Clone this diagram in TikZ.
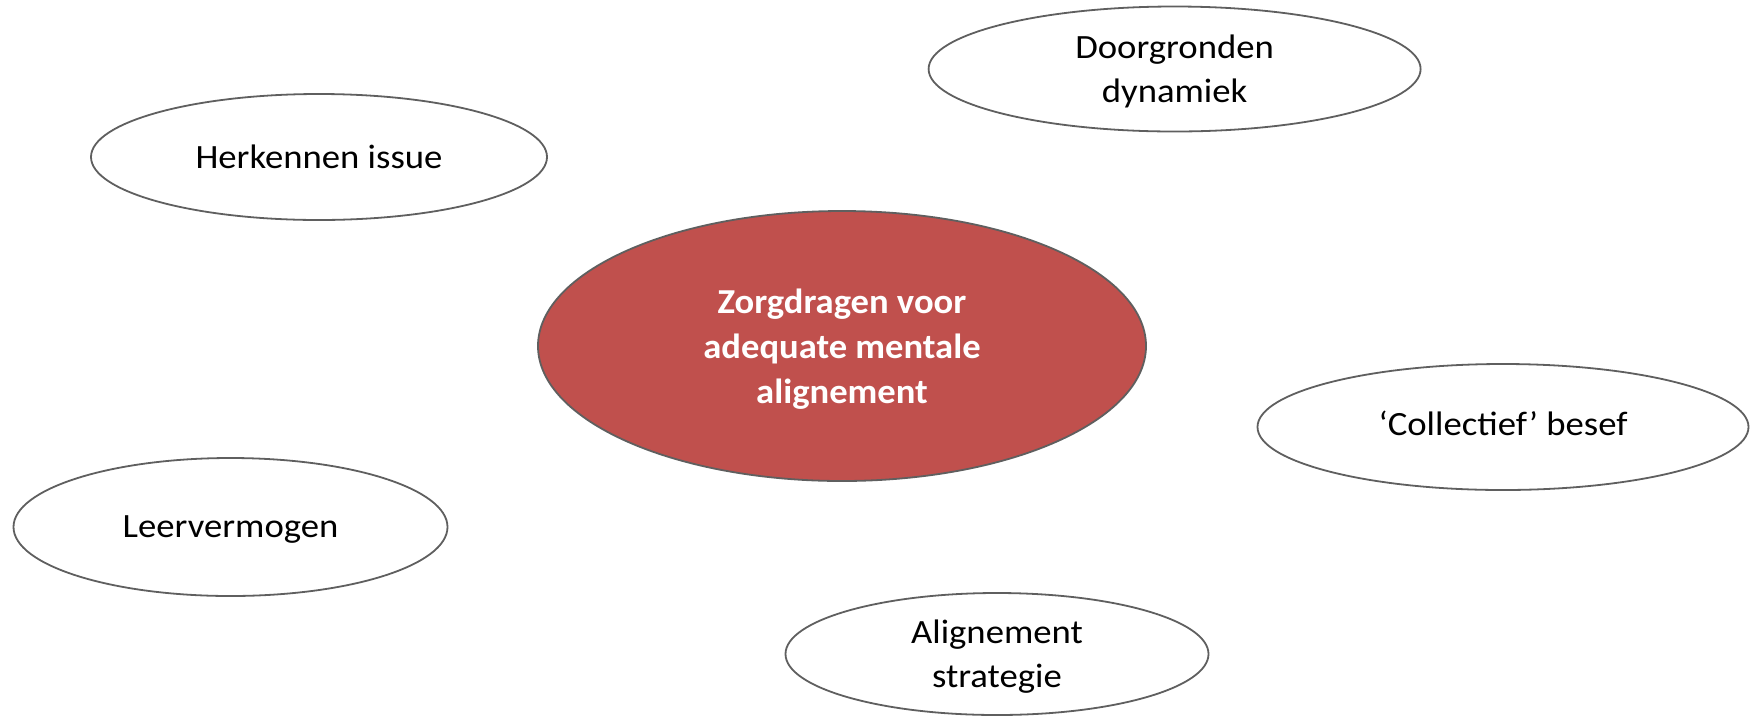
\documentclass[tikz,border=0pt]{standalone}
\usepackage{fontspec}
\setmainfont{Carlito}[FakeStretch=1.08]
\newfontfamily\centfont{Carlito}[FakeStretch=1.045]
\usetikzlibrary{shapes.geometric}
\definecolor{strokegray}{HTML}{5F5F5F}
\definecolor{centred}{HTML}{C0504D}
\begin{document}
\begin{tikzpicture}[x=1pt,y=-1pt,
  bub/.style={ellipse, draw=strokegray, line width=1.8pt, fill=white, inner sep=0pt,
    align=center, text=black, text depth=0pt, font=\fontsize{34}{44}\selectfont},
  cbub/.style={bub, fill=centred, text=white, font=\centfont\bfseries\fontsize{35}{45}\selectfont}]
\useasboundingbox (0,0) rectangle (1750,716);
\node[bub, minimum width=456pt, minimum height=126pt, text depth=-4.5pt] (herk) at (319,157) {Herkennen issue};
\node[bub, minimum width=492pt, minimum height=125pt] (door) at (1174.6,69) {Doorgronden\\dynamiek};
\node[cbub, minimum width=608pt, minimum height=270pt] (cent) at (842,346) {Zorgdragen voor\\adequate mentale\\alignement};
\node[bub, minimum width=491pt, minimum height=126pt, text depth=7pt] (coll) at (1503,427) {‘Collectief’ besef};
\node[bub, minimum width=434pt, minimum height=138pt] (leer) at (230.5,527) {Leervermogen};
\node[bub, minimum width=423pt, minimum height=122pt, text depth=-3pt] (alig) at (997,654) {Alignement\\strategie};
\end{tikzpicture}
\end{document}
